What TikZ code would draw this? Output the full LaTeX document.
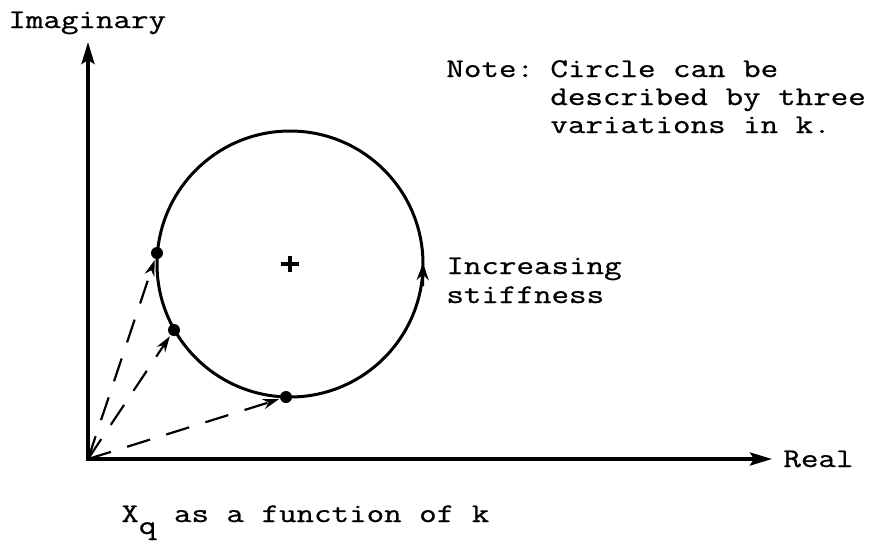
\documentclass[tikz,border=0pt]{standalone}
\usepackage{fontspec}
\usepackage{graphicx}
\usetikzlibrary{arrows.meta}
\newfontfamily\twfont[FakeBold=0.7]{Latin Modern Mono}
\newcommand{\twtext}[1]{\scalebox{1.26}[1]{\fontsize{13.5}{14}\selectfont\twfont #1}}
\tikzset{
  axisline/.style={line width=1.8pt, line join=miter, {Stealth[length=11pt,width=6.5pt,inset=2pt]}-{Stealth[length=11pt,width=6.5pt,inset=2pt]}},
  circline/.style={line width=1.5pt},
  dashedarrow/.style={line width=1.1pt, dash pattern=on 12pt off 8.5pt, -{Stealth[length=8pt,width=5pt]}, shorten >=0.5pt},
  dirarrow/.style={line width=1.5pt, -{Stealth[length=8.5pt,width=6pt]}},
  dotmark/.style={circle, fill=black, inner sep=0pt, minimum size=6pt},
  plusmark/.style={line width=1.8pt},
  label/.style={inner sep=0pt, anchor=base west}
}
\begin{document}
\begin{tikzpicture}[x=0.5pt,y=-0.5pt]
\useasboundingbox (0,0) rectangle (894,543);
% axes
\coordinate (O) at (88,459);
\coordinate (ytop) at (88,42);
\coordinate (xend) at (772,459);
\draw[axisline] (ytop) -- (O) -- (xend);
% circle
\coordinate (C) at (290,264);
\draw[circline] (C) circle [radius=133];
\draw[dirarrow] (422.6,286) -- (423,263);
% plus at centre
\draw[plusmark] ([xshift=-4.5pt]C) -- ([xshift=4.5pt]C);
\draw[plusmark] ([yshift=4pt]C) -- ([yshift=-4pt]C);
% points
\node[dotmark] (p1) at (157,253) {};
\node[dotmark] (p2) at (174,330) {};
\node[dotmark] (p3) at (286,397) {};
\draw[dashedarrow] (O) -- (p1);
\draw[dashedarrow] (O) -- (p2);
\draw[dashedarrow] (O) -- (p3);
% labels
\node[label] (imag) at (8,28) {\twtext{Imaginary}};
\node[label] (real) at (783,467) {\twtext{Real}};
\node[label] (note) at (446,77) {\twtext{Note:}};
\node[label] (notetext) at (550,77) {\twtext{\begin{tabular}[t]{@{}l@{}}Circle can be\\described by three\\variations in k.\end{tabular}}};
\node[label] (incr) at (446,274) {\twtext{\fontsize{13.5}{14.5}\selectfont\begin{tabular}[t]{@{}l@{}}Increasing\\stiffness\end{tabular}}};
\node[label] (caption) at (121,522) {\twtext{X\raisebox{-6pt}{q} as a function of k}};
\end{tikzpicture}
\end{document}
